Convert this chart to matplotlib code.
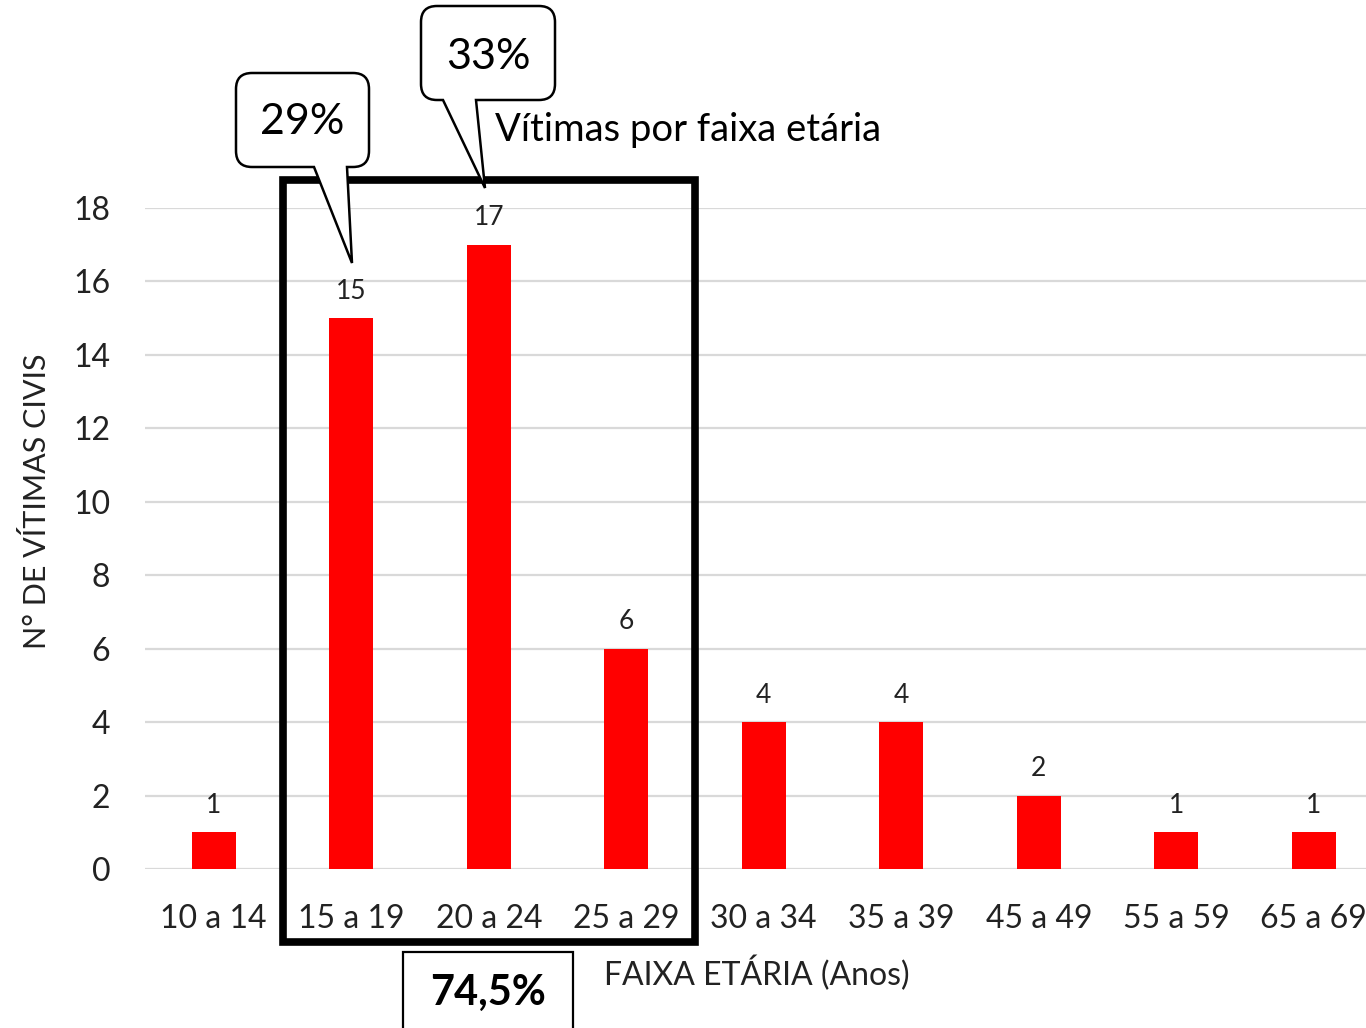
import matplotlib
matplotlib.use('Agg')

import matplotlib.pyplot as plt
from matplotlib.path import Path
from matplotlib.patches import PathPatch, Rectangle

plt.rcParams['font.family'] = ['Lato', 'DejaVu Sans']

# dados
faixas  = ['10 a 14', '15 a 19', '20 a 24', '25 a 29', '30 a 34',
           '35 a 39', '45 a 49', '55 a 59', '65 a 69']
vitimas = [1, 15, 17, 6, 4, 4, 2, 1, 1]
yticks  = [0, 2, 4, 6, 8, 10, 12, 14, 16, 18]

W, H = 1366, 1028
fig = plt.figure(figsize=(W / 100, H / 100), dpi=100)

def px(x, y):
  # pixel (topo-esquerda) -> fracao da figura
  return x / W, 1 - y / H

ax = fig.add_axes([145 / W, 1 - 869 / H, 1237.5 / W, 661 / H])
ax.set_xlim(-0.5, len(faixas) - 0.5)
ax.set_ylim(0, 18)

ax.bar(range(len(faixas)), vitimas, width=0.32, color='#ff0000', zorder=3)
for i, v in enumerate(vitimas):
  ax.annotate(str(v), (i, v), xytext=(0, 19.5), textcoords='offset points',
              ha='center', va='center', fontsize=19, color='#222222',
              annotation_clip=False)

ax.set_yticks(yticks)
ax.set_xticks(range(len(faixas)))
ax.set_xticklabels(faixas)
ax.tick_params(axis='both', length=0, labelsize=23, colors='#222222')
ax.tick_params(axis='y', pad=25)
ax.tick_params(axis='x', pad=25)
ax.grid(axis='y', color='#d9d9d9', linewidth=1.6, zorder=0)
for s in ax.spines.values():
  s.set_visible(False)

# retangulo preto em volta de 15 a 29
rect = Rectangle((0.5, -2.0), 3.0, 20.76, fill=False, edgecolor='black',
                 linewidth=5.5, clip_on=False, zorder=4)
ax.add_patch(rect)

# textos
fig.text(*px(37, 501), 'N° DE VÍTIMAS CIVIS', rotation=90, ha='center',
         va='center', fontsize=22, color='#222222')
fig.text(*px(604, 973), 'FAIXA ETÁRIA (Anos)', ha='left', va='center',
         fontsize=23, color='#222222')
fig.text(*px(495, 130), 'Vítimas por faixa etária', ha='left', va='center',
         fontsize=27.5, color='black')

def callout(x0, y0, x1, y1, tl, tr, tip, r=16):
  # caixa arredondada com rabicho na borda de baixo (pixels)
  verts = [(x0 + r, y0), (x1 - r, y0), (x1, y0), (x1, y0 + r),
           (x1, y1 - r), (x1, y1), (x1 - r, y1),
           (tr, y1), tip, (tl, y1),
           (x0 + r, y1), (x0, y1), (x0, y1 - r),
           (x0, y0 + r), (x0, y0), (x0 + r, y0), (x0 + r, y0)]
  codes = [Path.MOVETO, Path.LINETO, Path.CURVE3, Path.CURVE3,
           Path.LINETO, Path.CURVE3, Path.CURVE3,
           Path.LINETO, Path.LINETO, Path.LINETO,
           Path.LINETO, Path.CURVE3, Path.CURVE3,
           Path.LINETO, Path.CURVE3, Path.CURVE3, Path.CLOSEPOLY]
  verts = [px(*v) for v in verts]
  p = PathPatch(Path(verts, codes), transform=fig.transFigure,
                facecolor='white', edgecolor='black', linewidth=1.8, zorder=10)
  fig.patches.append(p)

callout(236, 73, 369, 167, 314, 347, (352, 263))
fig.text(*px(302, 122), '29%', ha='center', va='center', fontsize=31, zorder=11)
callout(421, 6, 555, 100, 443, 476, (485, 188))
fig.text(*px(488, 57), '33%', ha='center', va='center', fontsize=31, zorder=11)

# caixa 74,5%
box = Rectangle(px(403, 1040), 170 / W, 88 / H, transform=fig.transFigure,
                fill=False, edgecolor='black', linewidth=1.6)
fig.patches.append(box)
fig.text(*px(488, 993), '74,5%', ha='center', va='center', fontsize=30,
         fontweight='bold')

plt.savefig('out.png', dpi=100)
